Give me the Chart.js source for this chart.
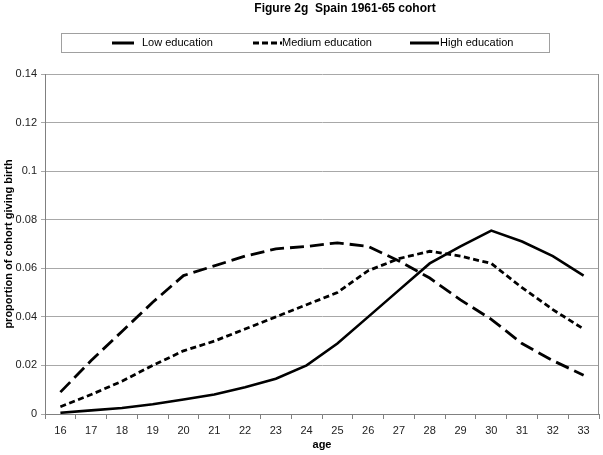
<!DOCTYPE html>
<html>
<head>
<meta charset="utf-8">
<script src="https://cdn.jsdelivr.net/npm/chart.js@4/dist/chart.umd.min.js"></script>
<style>
  html, body { margin: 0; padding: 0; background: #fff; }
  #wrap { width: 603px; height: 455px; position: relative; }
</style>
</head>
<body>
<div id="wrap"><canvas id="fig" width="603" height="455"></canvas></div>
<script>
// Données
const ages = ['16','17','18','19','20','21','22','23','24','25','26','27','28','29','30','31','32','33'];
const lowEdu = [0.009, 0.022, 0.034, 0.046, 0.057, 0.061, 0.065, 0.068, 0.069, 0.0705, 0.069, 0.063, 0.056, 0.047, 0.039, 0.029, 0.022, 0.016];
const mediumEdu = [0.003, 0.008, 0.0135, 0.020, 0.026, 0.030, 0.035, 0.040, 0.045, 0.050, 0.059, 0.064, 0.067, 0.065, 0.062, 0.052, 0.043, 0.035];
const highEdu = [0.0005, 0.0015, 0.0025, 0.004, 0.006, 0.008, 0.011, 0.0145, 0.020, 0.029, 0.040, 0.051, 0.062, 0.069, 0.0755, 0.071, 0.065, 0.057];
const yTicks = [0, 0.02, 0.04, 0.06, 0.08, 0.1, 0.12, 0.14];

const FONT = '"Liberation Sans", Arial, sans-serif';

// Titre, légende encadrée et bordure droite
const decorPlugin = {
    id: 'decor',
    afterDraw(chart) {
        const ctx = chart.ctx;
        const area = chart.chartArea;
        ctx.save();

        ctx.fillStyle = '#000';
        ctx.font = 'bold 12px ' + FONT;
        ctx.textAlign = 'center';
        ctx.textBaseline = 'middle';
        ctx.fillText('Figure 2g  Spain 1961-65 cohort', 345, 9);

        // cadre de la légende
        ctx.strokeStyle = '#a0a0a0';
        ctx.lineWidth = 1;
        ctx.strokeRect(61.5, 33.5, 488, 19);

        const items = [
            { ds: 0, x1: 112, x2: 134, tx: 142 },
            { ds: 1, x1: 253, x2: 282, tx: 282 },
            { ds: 2, x1: 410, x2: 439, tx: 440 }
        ];
        ctx.font = '11px ' + FONT;
        ctx.textAlign = 'left';
        items.forEach(it => {
            const d = chart.data.datasets[it.ds];
            ctx.beginPath();
            ctx.setLineDash(it.ds === 1 ? [6, 3] : []);
            ctx.lineWidth = 3;
            ctx.strokeStyle = '#000';
            ctx.moveTo(it.x1, 43);
            ctx.lineTo(it.x2, 43);
            ctx.stroke();
            ctx.setLineDash([]);
            ctx.fillText(d.label, it.tx, 43);
        });

        // bordure droite du graphique
        ctx.strokeStyle = '#909090';
        ctx.lineWidth = 1;
        ctx.beginPath();
        ctx.moveTo(Math.round(area.right) - 0.5, area.top);
        ctx.lineTo(Math.round(area.right) - 0.5, area.bottom);
        ctx.stroke();
        ctx.restore();
    }
};

new Chart(document.getElementById('fig'), {
    type: 'line',
    data: {
        labels: ages,
        datasets: [
            { label: 'Low education', data: lowEdu, borderColor: '#000', borderWidth: 2.8, borderDash: [14, 6] },
            { label: 'Medium education', data: mediumEdu, borderColor: '#000', borderWidth: 2.8, borderDash: [6, 3.5] },
            { label: 'High education', data: highEdu, borderColor: '#000', borderWidth: 2.6 }
        ]
    },
    options: {
        responsive: false,
        animation: false,
        layout: { padding: { top: 74, right: 4, left: 0, bottom: 0 } },
        elements: { point: { radius: 0 }, line: { tension: 0 } },
        plugins: { legend: { display: false }, title: { display: false }, tooltip: { enabled: false } },
        scales: {
            x: {
                offset: true,
                grid: { offset: true, drawOnChartArea: false, color: '#808080', tickLength: 5 },
                border: { color: '#808080' },
                ticks: { color: '#222', font: { family: FONT, size: 11 }, padding: 5, maxRotation: 0, autoSkip: false },
                title: { display: true, text: 'age', color: '#000', font: { family: FONT, size: 11, weight: 'bold' }, padding: { top: 1, bottom: 3 } },
                afterFit(scale) { scale.height = 41; }
            },
            y: {
                min: 0,
                max: 0.14,
                afterBuildTicks(scale) { scale.ticks = yTicks.map(v => ({ value: v })); },
                grid: { color: '#a8a8a8', tickLength: 4 },
                border: { color: '#808080' },
                ticks: {
                    autoSkip: false,
                    color: '#222',
                    font: { family: FONT, size: 11 },
                    padding: 4,
                    callback: v => String(Math.round(v * 100) / 100)
                },
                title: { display: true, text: 'proportion of cohort giving birth', color: '#000', font: { family: FONT, size: 11, weight: 'bold' }, padding: { top: 2, bottom: 2 } },
                afterFit(scale) { scale.width = 45; }
            }
        }
    },
    plugins: [decorPlugin]
});
</script>
</body>
</html>
